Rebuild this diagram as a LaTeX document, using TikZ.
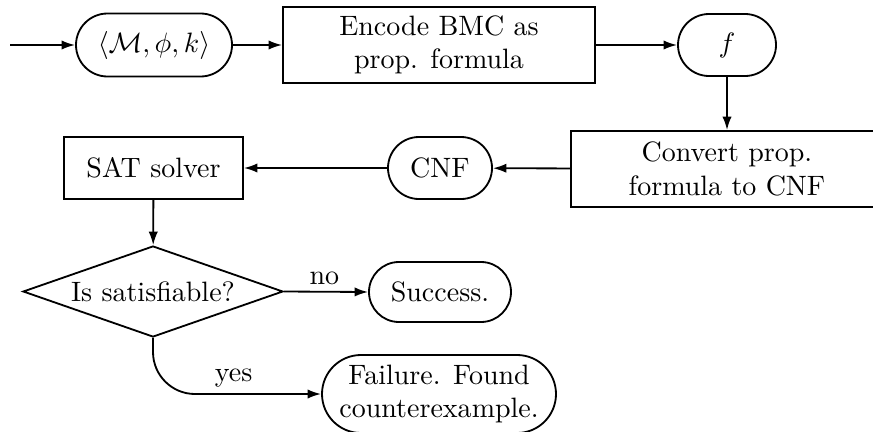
\documentclass[tikz,border=0pt]{standalone}
\usetikzlibrary{shapes.misc,shapes.geometric,arrows.meta}
\begin{document}
\begin{tikzpicture}[x=0.357pt,y=-0.357pt,
  line width=0.65pt,
  conn/.style={-{Latex[length=4.8pt,width=3.3pt]}},
  pill/.style={draw,rounded rectangle,inner sep=0pt,align=center},
  boxnode/.style={draw,rectangle,inner sep=0pt,align=center},
  decide/.style={draw,diamond,shape aspect=2.857,inner sep=0pt,align=center}]
\clip (0,0) rectangle (873,431);
\coordinate (start) at (10,45);
\node[pill,minimum width=156*0.357pt,minimum height=63*0.357pt] (M) at (154,45) {$\langle\mathcal{M},\phi,k\rangle$};
\node[boxnode,minimum width=312*0.357pt,minimum height=76*0.357pt] (enc) at (439,45) {Encode BMC as\\prop. formula};
\node[pill,minimum width=98*0.357pt,minimum height=62*0.357pt] (f) at (727,45) {$f$};
\node[boxnode,minimum width=312*0.357pt,minimum height=76*0.357pt] (conv) at (727,169) {Convert prop.\\formula to CNF};
\node[pill,minimum width=104*0.357pt,minimum height=62*0.357pt] (cnf) at (440,168) {CNF};
\node[boxnode,minimum width=179*0.357pt,minimum height=62*0.357pt] (sat) at (153.5,168) {SAT solver};
\node[decide,minimum width=260*0.357pt,minimum height=91*0.357pt] (dec) at (153,291.5) {Is satisfiable?};
\node[pill,minimum width=142*0.357pt,minimum height=60*0.357pt] (succ) at (440,292) {Success.};
\node[pill,minimum width=234*0.357pt,minimum height=78*0.357pt] (fail) at (439,394) {Failure. Found\\counterexample.};
\draw[conn] (start) -- (M);
\draw[conn] (M) -- (enc);
\draw[conn] (enc) -- (f);
\draw[conn] (f) -- (conv);
\draw[conn] (conv) -- (cnf);
\draw[conn] (cnf) -- (sat);
\draw[conn] (sat) -- (dec);
\draw[conn] (dec.east) -- node[above,pos=0.48,inner sep=2pt] {no} (succ.west);
\draw[conn,rounded corners=42*0.357pt] (dec.south) |- node[above,pos=0.74,inner sep=2pt] {yes} (fail.west);
\end{tikzpicture}
\end{document}
